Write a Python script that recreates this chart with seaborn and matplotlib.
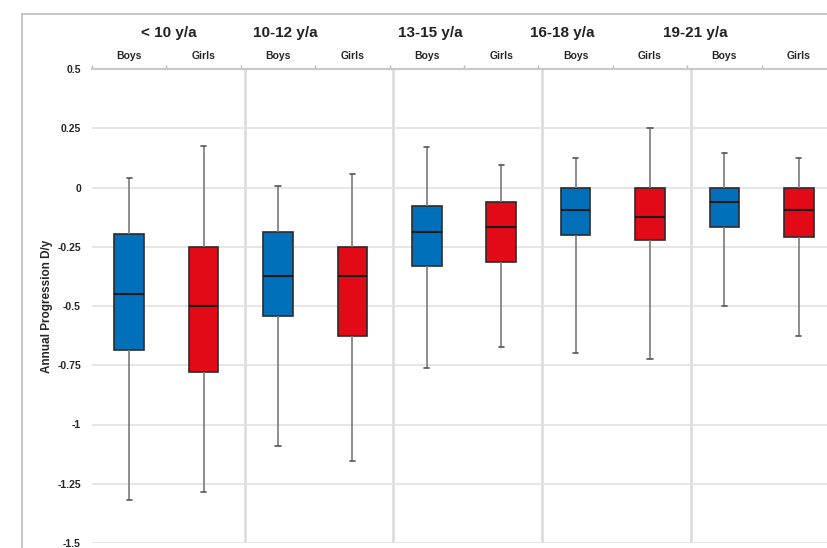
import numpy as np
import pandas as pd
import seaborn as sns
import matplotlib.pyplot as plt
from matplotlib.patches import Rectangle

# Data (five-number summary per box)
groups = ['< 10 y/a', '10-12 y/a', '13-15 y/a', '16-18 y/a', '19-21 y/a']
sexes = ['Boys', 'Girls']
whisker_low = [-1.32, -1.285, -1.09, -1.155, -0.76, -0.675, -0.70, -0.725, -0.50, -0.625]
q1 = [-0.685, -0.78, -0.543, -0.626, -0.333, -0.314, -0.202, -0.22, -0.168, -0.21]
median = [-0.449, -0.50, -0.375, -0.375, -0.189, -0.168, -0.093, -0.126, -0.062, -0.094]
q3 = [-0.197, -0.25, -0.189, -0.25, -0.076, -0.062, 0.0, 0.0, 0.0, 0.0]
whisker_high = [0.041, 0.173, 0.006, 0.056, 0.169, 0.096, 0.124, 0.25, 0.144, 0.124]
ytick_vals = [0.5, 0.25, 0, -0.25, -0.5, -0.75, -1, -1.25, -1.5]
ytick_labels = ['0.5', '0.25', '0', '-0.25', '-0.5', '-0.75', '-1', '-1.25', '-1.5']
colors = {'Boys': '#0070ba', 'Girls': '#e20a17'}

# five points per box -> quartiles come out exactly, whiskers to min/max
rows = []
for i, g in enumerate(groups):
    for j, s in enumerate(sexes):
        k = 2 * i + j
        for v in [whisker_low[k], q1[k], median[k], q3[k], whisker_high[k]]:
            rows.append({'group': g, 'sex': s, 'value': v})
df = pd.DataFrame(rows)

sns.set_style('white')
plt.rcParams['font.family'] = ['Liberation Sans', 'DejaVu Sans']

fig = plt.figure(figsize=(8.28, 5.48), dpi=100)
ax = fig.add_axes([92 / 828, 5 / 548, 744 / 828, 474 / 548])

sns.boxplot(data=df, x='group', y='value', hue='sex', order=groups, hue_order=sexes,
            palette=colors, saturation=1, width=1.0, gap=0.6, whis=(0, 100),
            linecolor='#2b2b2b', linewidth=1.2, legend=False, ax=ax,
            medianprops=dict(color='#1a1a1a', linewidth=1.5),
            whiskerprops=dict(color='#7a7a7a', linewidth=1.2),
            capprops=dict(color='#555555', linewidth=1.2))

# shorten the caps (short ticks like the reference)
for ln in ax.lines:
    xd = np.asarray(ln.get_xdata(), dtype=float)
    yd = np.asarray(ln.get_ydata(), dtype=float)
    if len(xd) == 2 and yd[0] == yd[1] and 0 < abs(xd[1] - xd[0]) < 0.15:
        c = xd.mean()
        ln.set_xdata([c - 0.018, c + 0.018])

ax.set_xlim(-0.5, 4.5)
ax.set_ylim(-1.5, 0.5)
ax.set_yticks(ytick_vals)
ax.set_yticklabels(ytick_labels, fontsize=7.5, fontweight='bold')
ax.tick_params(axis='y', length=0, pad=8)
ax.yaxis.grid(True, color='#e2e2e2', lw=1.2)
ax.set_axisbelow(True)

for b in [0.5, 1.5, 2.5, 3.5]:
    ax.axvline(b + 0.025, color='#dadada', lw=1.8, zorder=0.5)

for side in ['left', 'right', 'bottom']:
    ax.spines[side].set_visible(False)
ax.spines['top'].set_color('#c8c8c8')
ax.spines['top'].set_linewidth(1.5)

# top axis: boundary ticks, Boys/Girls labels
ax.xaxis.tick_top()
ax.set_xticks(np.arange(-0.5, 4.6, 0.5))
ax.set_xticklabels([''] * 11)
ax.tick_params(axis='x', which='major', length=3, color='#bbbbbb', width=1)
minor_pos = [i + d for i in range(len(groups)) for d in (-0.25, 0.25)]
ax.set_xticks(minor_pos, minor=True)
ax.set_xticklabels(sexes * len(groups), minor=True, fontsize=7.5, fontweight='bold')
ax.tick_params(axis='x', which='minor', length=0, pad=6)
ax.set_xlabel('')

header_x = [0.017, 0.797, 1.772, 2.659, 3.552]
for hx, g in zip(header_x, groups):
    ax.text(hx, 1.076, g, transform=ax.get_xaxis_transform(), ha='center', va='center',
            fontsize=11, fontweight='bold', color='#222222')

ax.set_ylabel('Annual Progression D/y', fontsize=8.5, fontweight='bold', labelpad=3)

fig.add_artist(Rectangle((22 / 828, -0.1), 2, (548 - 14) / 548 + 0.1, transform=fig.transFigure,
                         fill=False, ec='#c8c8c8', lw=1.5))

fig.savefig('out.png', dpi=100)
